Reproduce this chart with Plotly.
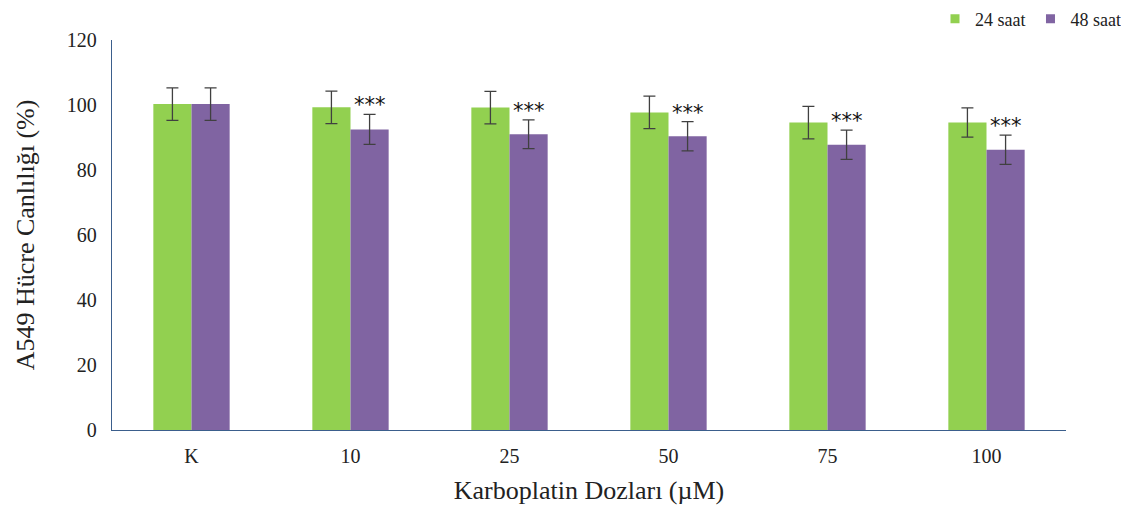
import plotly.graph_objects as go

categories = ["K", "10", "25", "50", "75", "100"]
v24 = [100.3, 99.3, 99.2, 97.7, 94.6, 94.6]
e24 = [5.0, 5.0, 5.0, 5.0, 5.0, 4.5]
v48 = [100.3, 92.5, 91.0, 90.4, 87.8, 86.2]
e48 = [5.0, 4.6, 4.4, 4.5, 4.5, 4.5]
sig48 = ["", "***", "***", "***", "***", "***"]
series_names = ["24 saat", "48 saat"]
series_colors = ["#92D050", "#8064A2"]

font_family = "Liberation Serif"

fig = go.Figure()
for name, color, vals, errs in zip(series_names, series_colors, [v24, v48], [e24, e48]):
    fig.add_trace(go.Bar(
        x=categories, y=vals, name=name, showlegend=False,
        marker=dict(color=color, line=dict(width=0)),
        error_y=dict(type="data", array=errs, color="#404040", thickness=1.3, width=6),
    ))
# legend entries with small square swatches
for name, color in zip(series_names, series_colors):
    fig.add_trace(go.Scatter(
        x=[None], y=[None], mode="markers", name=name,
        marker=dict(symbol="square", size=9, color=color),
    ))

for i, (v, e, s) in enumerate(zip(v48, e48, sig48)):
    if s:
        fig.add_annotation(x=i, y=v + e, text=s, showarrow=False, xref="x", yref="y",
                           xshift=19, yanchor="middle", yshift=9,
                           font=dict(family="DejaVu Sans", size=21, color="#111111"))

fig.update_layout(
    width=1129, height=510,
    margin=dict(l=104, r=71, t=32, b=88, autoexpand=False),
    paper_bgcolor="white", plot_bgcolor="white",
    barmode="group", bargap=0.52, bargroupgap=0,
    font=dict(family=font_family, size=20, color="#222222"),
    legend=dict(orientation="h", xref="container", x=1118 / 1129, xanchor="right",
                yref="paper", y=1.054, yanchor="middle",
                font=dict(family=font_family, size=18, color="#222222"),
                itemwidth=30, tracegroupgap=0, borderwidth=0,
                bgcolor="rgba(0,0,0,0)"),
    xaxis=dict(type="category", range=[-0.5, 5.5], showline=True, linecolor="#3B5E8C", linewidth=1.3, ticks="",
               showgrid=False, tickfont=dict(size=20), ticklabelstandoff=8,
               title=dict(text="Karboplatin Dozları (µM)", font=dict(size=26), standoff=14)),
    yaxis=dict(range=[0, 120], dtick=20, showline=True, linecolor="#3B5E8C", linewidth=1.3,
               ticks="", showgrid=False, zeroline=False, tickfont=dict(size=20),
               ticklabelstandoff=10,
               title=dict(text="A549 Hücre Canlılığı (%)", font=dict(size=26), standoff=24)),
)

fig.write_html("out.html")
